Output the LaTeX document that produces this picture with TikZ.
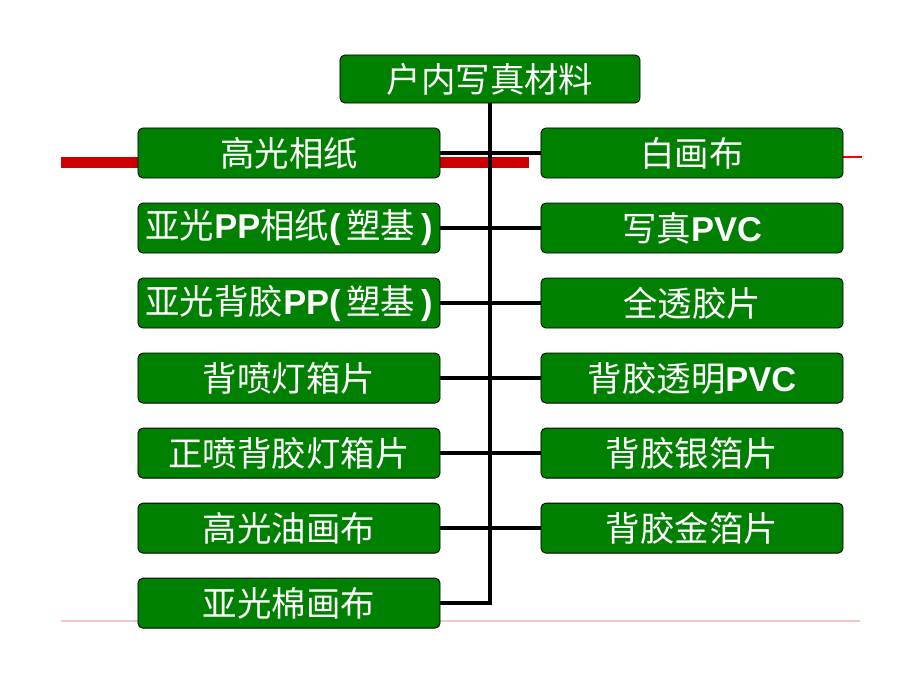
\documentclass[tikz,border=0pt]{standalone}
\usepackage{fontspec}
\setmainfont{Liberation Sans}
\newfontfamily\cjk{Noto Sans CJK SC}
\newfontfamily\latb{Liberation Sans}[BoldFont={Liberation Sans Bold}]
\usepackage{xcolor}
\definecolor{boxgreen}{HTML}{008000}
\definecolor{barred}{HTML}{CC0000}
\definecolor{rulepink}{HTML}{F2C4C4}
\usetikzlibrary{positioning}
\newcommand{\lt}[1]{{\latb\bfseries #1}}

\begin{document}
\begin{tikzpicture}[x=0.025cm, y=-0.025cm,
        node distance=0.604cm,
        item/.style={rectangle, draw=black, line width=0.6pt, fill=boxgreen, rounded corners=3.5pt,
            minimum width=7.55cm, minimum height=1.25cm, inner sep=0pt, text=white,
            font=\cjk\fontsize{24.5}{28}\selectfont},
        link/.style={draw=black, line width=3.2pt}
    ]
        \useasboundingbox (0,0) rectangle (920,690);

        % slide decoration
        \fill[barred] (61,157) rectangle (529,168);
        \draw[red, line width=1pt] (843,157) -- (862,157);
        \draw[rulepink, line width=1.4pt] (61,621) -- (860,621);

        \node[item, minimum width=7.5cm, minimum height=1.2cm] (root) at (490,79) {户内写真材料};

        % left column
        \node[item] (l1) at (289,153) {高光相纸};
        \node[item, below=of l1] (l2) {亚光\lt{PP}相纸\lt{(\,}塑基\lt{\,)}};
        \node[item, below=of l2] (l3) {亚光背胶\lt{PP(\,}塑基\lt{\,)}};
        \node[item, below=of l3] (l4) {背喷灯箱片};
        \node[item, below=of l4] (l5) {正喷背胶灯箱片};
        \node[item, below=of l5] (l6) {高光油画布};
        \node[item, below=of l6] (l7) {亚光棉画布};

        % right column
        \node[item] (r1) at (692,153) {白画布};
        \node[item, below=of r1] (r2) {写真\lt{PVC}};
        \node[item, below=of r2] (r3) {全透胶片};
        \node[item, below=of r3] (r4) {背胶透明\lt{PVC}};
        \node[item, below=of r4] (r5) {背胶银箔片};
        \node[item, below=of r5] (r6) {背胶金箔片};

        \draw[link] (root.south) |- (l7.east);
        \foreach \i in {1,...,6}
            \draw[link] (l\i.east) -- (r\i.west);
    \end{tikzpicture}
\end{document}
